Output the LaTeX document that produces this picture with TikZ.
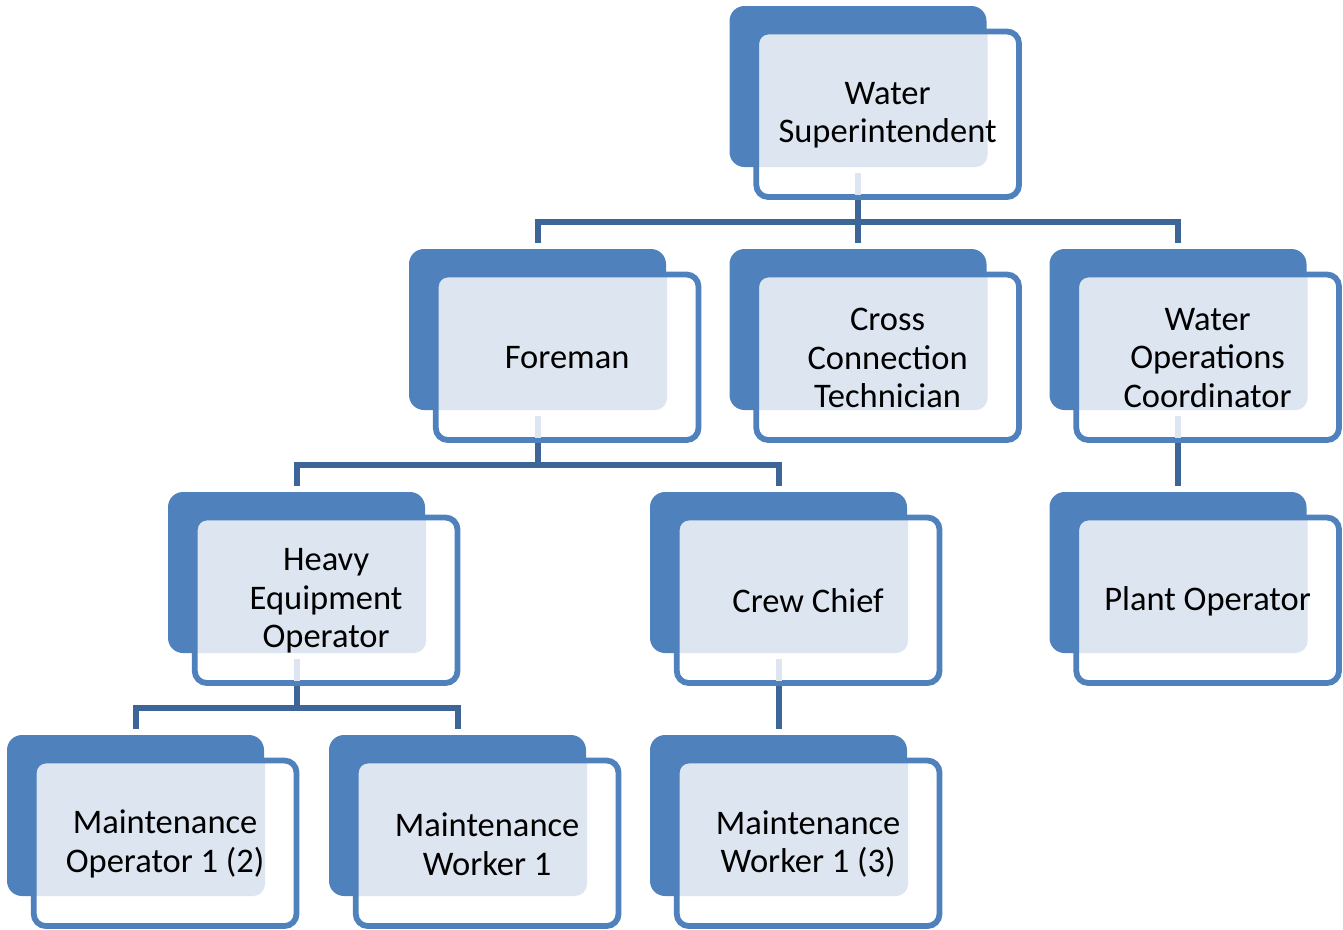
\documentclass[tikz,border=0pt]{standalone}
\usepackage{fontspec}
\setmainfont{Carlito}
\usetikzlibrary{calc,backgrounds}

\definecolor{unitblue}{HTML}{4F81BD}
\definecolor{linkblue}{HTML}{3D6598}
\definecolor{dotblue}{HTML}{DDE5F0}

\tikzset{
  backbox/.style={rectangle, rounded corners=15pt, fill=unitblue, draw=none,
    minimum width=257pt, minimum height=161pt, inner sep=0pt},
  frontfill/.style={fill=white, rounded corners=12pt},
  frontline/.style={draw=unitblue, line width=5.8pt, rounded corners=12pt},
  dotfill/.style={fill=dotblue},
  unitlabel/.style={align=center, text=black, inner sep=0pt,
    font=\fontsize{34.5}{38.5}\selectfont},
  link/.style={draw=linkblue, line width=6pt, line cap=butt, line join=miter},
}

% #1 name, #2 left of the back card, #3 top of the back card, #4 title
\newcommand\orgunit[4]{%
  \node[backbox] (#1b) at ({#2+128.5},{#3+80.5}) {};
  \path[frontfill] ({#2+26.75},{#3+25.5}) rectangle ({#2+289.5},{#3+191});
  \begin{scope}
    \clip[rounded corners=12pt] ({#2+26.75},{#3+25.5}) rectangle ({#2+289.5},{#3+191});
    \fill[dotfill, rounded corners=12pt] (#2,#3) rectangle ({#2+258},{#3+161});
  \end{scope}
  \path[frontline] ({#2+26.75},{#3+25.5}) rectangle ({#2+289.5},{#3+191});
  \node[unitlabel] (#1) at ({#2+158.1},{#3+109}) {#4};
}
% dotted stub under a card that has reports
\newcommand\orgstub[1]{%
  \fill[dotfill] ($(#1b.south)+(-3,6)$) rectangle ($(#1b.south)+(3,28)$);
}

\begin{document}
\begin{tikzpicture}[x=1pt, y=-1pt]
\useasboundingbox (0,0) rectangle (1343,929);

% cards
\orgunit{sup}{729.5}{6}{Water\\Superintendent}
\orgunit{fore}{409}{249}{Foreman}
\orgunit{cct}{729.5}{249}{Cross\\Connection\\Technician}
\orgunit{woc}{1049.5}{249}{Water\\Operations\\Coordinator}
\orgunit{heavy}{168}{492}{Heavy\\Equipment\\Operator}
\orgunit{crew}{650}{492}{Crew Chief}
\orgunit{plant}{1049.5}{492}{Plant Operator}
\orgunit{mop}{7}{735}{Maintenance\\Operator 1 (2)}
\orgunit{mw}{329}{735}{Maintenance\\Worker 1}
\orgunit{mwc}{650}{735}{Maintenance\\Worker 1 (3)}

\orgstub{sup}
\orgstub{fore}
\orgstub{woc}
\orgstub{heavy}
\orgstub{crew}

% reporting lines, behind the cards
\begin{pgfonlayer}{background}
  \draw[link] (supb.center) -- ($(cctb.north)+(0,-6)$);
  \draw[link] ($(foreb.north)+(0,-6)$) |- ($(supb.south)+(0,55)$) -| ($(wocb.north)+(0,-6)$);

  \draw[link] (foreb.center) -- ($(foreb.south)+(0,55)$);
  \draw[link] ($(heavyb.north)+(0,-6)$) |- ($(foreb.south)+(0,55)$) -| ($(crewb.north)+(0,-6)$);

  \draw[link] (wocb.center) -- ($(plantb.north)+(0,-6)$);

  \draw[link] (heavyb.center) -- ($(heavyb.south)+(0,55)$);
  \draw[link] ($(mopb.north)+(0,-6)$) |- ($(heavyb.south)+(0,55)$) -| ($(mwb.north)+(0,-6)$);

  \draw[link] (crewb.center) -- ($(mwcb.north)+(0,-6)$);
\end{pgfonlayer}
\end{tikzpicture}
\end{document}
